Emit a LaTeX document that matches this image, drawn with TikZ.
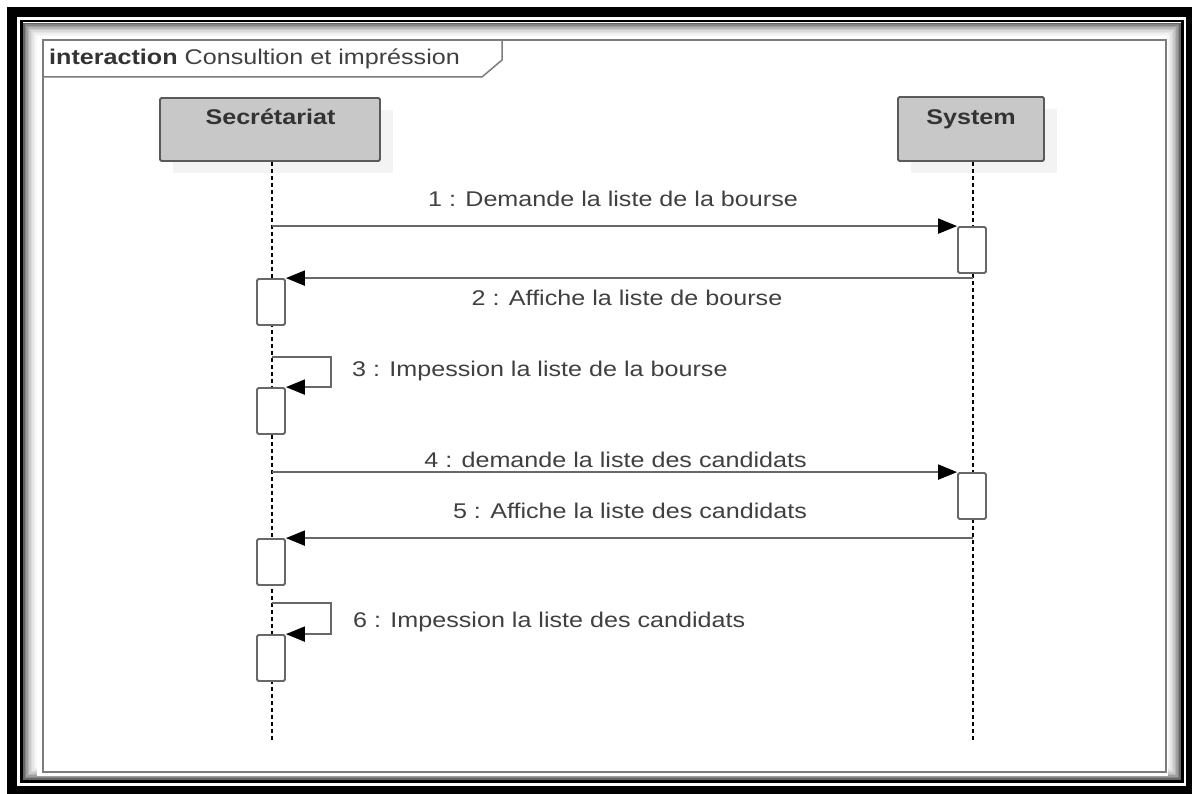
\documentclass[tikz,border=0pt]{standalone}
\usepackage{fontspec}
\setmainfont{Liberation Sans}[FakeStretch=1.18]
\usetikzlibrary{arrows.meta}
\definecolor{txt}{HTML}{404040}
\definecolor{lineg}{HTML}{686868}
\definecolor{boxfill}{HTML}{C8C8C8}
\definecolor{boxdraw}{HTML}{5A5A5A}
\definecolor{frameg}{HTML}{7C7C7C}
\definecolor{shad}{HTML}{F3F3F3}
\begin{document}
\begin{tikzpicture}[x=1pt,y=-1pt,
  actor/.style={draw=boxdraw, fill=boxfill, line width=1.8pt, rounded corners=1.5pt, inner sep=0pt},
  act/.style={draw=lineg, fill=white, line width=1.8pt, rounded corners=1.5pt, minimum width=28pt, minimum height=46pt, inner sep=0pt},
  lifeline/.style={black, line width=2.2pt, dash pattern=on 4pt off 3pt},
  msg/.style={lineg, line width=2pt, -{Triangle[length=19pt,width=15pt,color=black]}},
  lbl/.style={text=txt, font=\fontsize{21.3}{24}\selectfont, inner sep=0pt},
  aname/.style={text=black!80, font=\fontsize{21.3}{24}\selectfont\bfseries, inner sep=0pt}
]
\useasboundingbox (0,0) rectangle (1192,794);
\fill[white] (0,0) rectangle (1192,794);
% outer border
\fill[black] (7,7) rectangle (1192,794);
\fill[white] (17,17) rectangle (1185.5,786);
\draw[black, line width=2.5pt] (21.5,21) rectangle (1182.5,781.5);
\foreach \i/\c in {1/60,2/48,3/38,4/29,5/21,6/15,7/10,8/6,9/3}
  \draw[black!\c, line width=1.6pt] (22.5+1.5*\i,22+1.5*\i) rectangle (1181.5-1.5*\i,780.5-1.5*\i);
\fill[white] (37,36) rectangle (1168,776);
% frame
\draw[frameg, line width=1.8pt] (43,40) rectangle (1166,772);
\draw[frameg, line width=1.5pt] (43,40) -- (502,40) -- (502,60) -- (482,77) -- (43,77);
\node[anchor=base west, inner sep=0pt, font=\fontsize{21.3}{24}\selectfont] (title) at (49,65)
  {\textcolor{black!80}{\bfseries interaction} \textcolor{txt}{Consultion et impréssion}};
% actor shadows
\fill[shad] (173,110) rectangle (393,173);
\fill[shad] (911,109) rectangle (1057,173);
% actors
\node[actor, minimum width=220pt, minimum height=63pt] (sec) at (270,129.5) {};
\node[actor, minimum width=146pt, minimum height=64pt] (sys) at (971,129) {};
\node[aname, anchor=base] (secname) at (270.5,125) {Secrétariat};
\node[aname, anchor=base] (sysname) at (971,125) {System};
% lifelines
\coordinate (secend) at (272,740);
\coordinate (sysend) at (973,742);
\draw[lifeline] (sec.south -| secend) -- (secend);
\draw[lifeline] (sys.south -| sysend) -- (sysend);
% activations
\node[act] (S1) at (972,250) {};
\node[act] (A1) at (271,302) {};
\node[act] (A2) at (271,411) {};
\node[act] (S2) at (972,496) {};
\node[act] (A3) at (271,562) {};
\node[act] (A4) at (271,658) {};
% messages
\draw[msg] (S1.north west -| secend) -- (S1.north west);
\draw[msg] (A1.north east -| sysend) -- (A1.north east);
\coordinate (m3) at (272,357);
\draw[msg] (m3) -- ++(59,0) |- (A2.north east);
\draw[msg] (S2.north west -| secend) -- (S2.north west);
\draw[msg] (A3.north east -| sysend) -- (A3.north east);
\coordinate (m6) at (272,603);
\draw[msg] (m6) -- ++(59,0) |- (A4.north east);
% labels
\node[lbl, anchor=base] (l1) at (613,207) {1 : Demande la liste de la bourse};
\node[lbl, anchor=base] (l2) at (627,306) {2 : Affiche la liste de bourse};
\node[lbl, anchor=base west] (l3) at (352,377) {3 : Impession la liste de la bourse};
\node[lbl, anchor=base] (l4) at (615.5,467) {4 : demande la liste des candidats};
\node[lbl, anchor=base] (l5) at (630,518) {5 : Affiche la liste des candidats};
\node[lbl, anchor=base west] (l6) at (353,627) {6 : Impession la liste des candidats};
\end{tikzpicture}
\end{document}
